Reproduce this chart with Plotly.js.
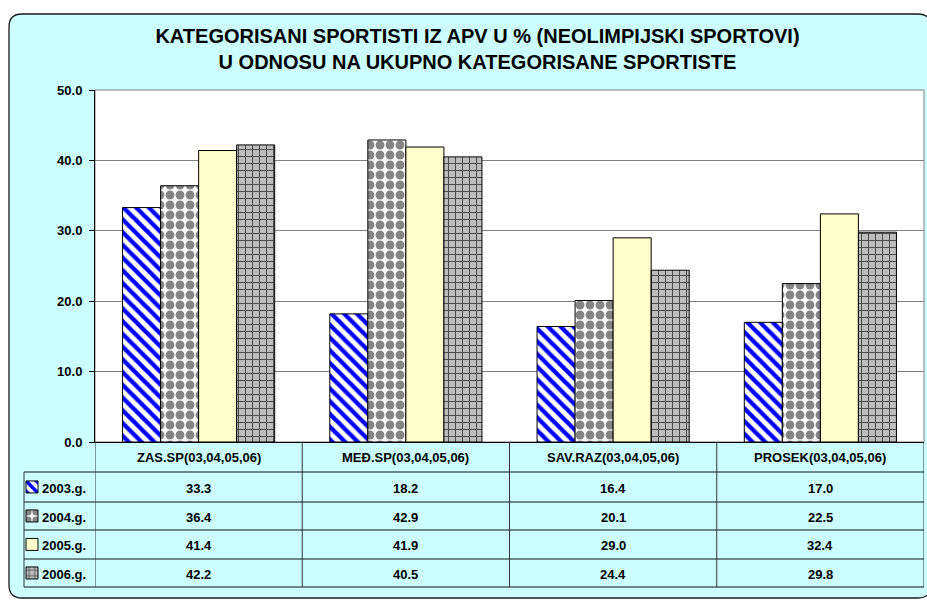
<!DOCTYPE html>
<html><head><meta charset="utf-8">
<script src="https://cdn.plot.ly/plotly-3.0.1.min.js"></script>
<style>html,body{margin:0;padding:0;background:#fff}#chart{width:927px;height:601px}</style>
</head><body><div id="chart"></div>
<script>
// ---- data ----
const categories = ['ZAS.SP(03,04,05,06)', 'MEĐ.SP(03,04,05,06)', 'SAV.RAZ(03,04,05,06)', 'PROSEK(03,04,05,06)'];
const seriesNames = ['2003.g.', '2004.g.', '2005.g.', '2006.g.'];
const v2003 = [33.3, 18.2, 16.4, 17.0];
const v2004 = [36.4, 42.9, 20.1, 22.5];
const v2005 = [41.4, 41.9, 29.0, 32.4];
const v2006 = [42.2, 40.5, 24.4, 29.8];
const yTickVals = [0, 10, 20, 30, 40, 50];
const titleLines = ['KATEGORISANI SPORTISTI IZ APV U % (NEOLIMPIJSKI SPORTOVI)', 'U ODNOSU NA UKUPNO KATEGORISANE SPORTISTE'];

// ---- geometry helpers (pixels -> paper) ----
const W = 927, H = 601, ML = 95, MR = 3, MT = 90, MB = 159;
const PW = W - ML - MR, PH = H - MT - MB;
const X = px => (px - ML) / PW;
const Y = py => (H - MB - py) / PH;
const FONT = 'Liberation Sans, Arial, sans-serif';
const CYAN = '#CCFFFF';

const series = [v2003, v2004, v2005, v2006];
const styles = [
  {color: '#FFFFFF', pattern: {shape: '\\', fgcolor: '#0000FF', bgcolor: '#FFFFFF', size: 9, solidity: 0.48, fillmode: 'replace'}},
  {color: '#FFFFFF', pattern: {shape: '.', fgcolor: '#858585', bgcolor: '#FFFFFF', size: 10, solidity: 0.62, fillmode: 'replace'}},
  {color: '#FFFFCC'},
  {color: '#C0C0C0', pattern: {shape: '+', fgcolor: '#4a4a4a', bgcolor: '#BDBDBD', size: 7, solidity: 0.26, fillmode: 'replace'}}
];

// table row boundaries (px)
const headerTop = 442, headerBot = 472;
const rowLines = [472, 502, 530, 559, 587];

const legendKeys = ['legend', 'legend2', 'legend3', 'legend4'];
const traces = series.map((vals, i) => {
  const m = {color: styles[i].color, line: {color: '#000000', width: 1}};
  if (styles[i].pattern) m.pattern = styles[i].pattern;
  return {
    type: 'bar', x: categories, y: vals, name: ' ', marker: m,
    legend: legendKeys[i], hoverinfo: 'skip'
  };
});

const shapes = [];
// rounded frame
function rr(x0, y0, x1, y1, r) {
  const p = (a, b) => X(a).toFixed(5) + ',' + Y(b).toFixed(5);
  return 'M' + p(x0 + r, y0) + ' L' + p(x1 - r, y0) + ' Q' + p(x1, y0) + ' ' + p(x1, y0 + r) +
    ' L' + p(x1, y1 - r) + ' Q' + p(x1, y1) + ' ' + p(x1 - r, y1) +
    ' L' + p(x0 + r, y1) + ' Q' + p(x0, y1) + ' ' + p(x0, y1 - r) +
    ' L' + p(x0, y0 + r) + ' Q' + p(x0, y0) + ' ' + p(x0 + r, y0) + ' Z';
}
shapes.push({type: 'path', xref: 'paper', yref: 'paper', path: rr(9, 14, 931, 598, 13),
  fillcolor: CYAN, line: {color: '#1a1a1a', width: 1.3}, layer: 'below'});
// plot area
shapes.push({type: 'rect', xref: 'paper', yref: 'paper', x0: 0, x1: 1, y0: 0, y1: 1,
  fillcolor: '#FFFFFF', line: {color: '#808080', width: 1}, layer: 'below'});
// table horizontal lines
rowLines.forEach(py => shapes.push({type: 'line', xref: 'paper', yref: 'paper',
  x0: X(24), x1: 1, y0: Y(py), y1: Y(py), line: {color: '#111111', width: 1}}));
// table vertical lines (category boundaries)
for (let i = 0; i <= categories.length; i++) {
  shapes.push({type: 'line', xref: 'x', yref: 'paper', x0: i - 0.5, x1: i - 0.5,
    y0: Y(headerTop), y1: Y(rowLines[rowLines.length - 1]), line: {color: '#333333', width: 1}});
}
shapes.push({type: 'line', xref: 'paper', yref: 'paper', x0: X(24), x1: X(24),
  y0: Y(rowLines[0]), y1: Y(rowLines[rowLines.length - 1]), line: {color: '#333333', width: 1}});

const annotations = [];
const tf = {family: FONT, size: 13, color: '#000000', weight: 'bold'};
categories.forEach((c, j) => annotations.push({xref: 'x', yref: 'paper', x: c, y: Y((headerTop + headerBot) / 2),
  text: c, showarrow: false, font: tf, xanchor: 'center', yanchor: 'middle'}));
series.forEach((vals, i) => {
  const yc = (rowLines[i] + rowLines[i + 1]) / 2 + 1;
  annotations.push({xref: 'paper', yref: 'paper', x: X(40), y: Y(yc), text: seriesNames[i],
    showarrow: false, font: tf, xanchor: 'left', yanchor: 'middle'});
  vals.forEach((v, j) => annotations.push({xref: 'x', yref: 'paper', x: categories[j], y: Y(yc),
    text: v.toFixed(1), showarrow: false, font: tf, xanchor: 'center', yanchor: 'middle'}));
});

const layout = {
  width: W, height: H,
  margin: {l: ML, r: MR, t: MT, b: MB, pad: 0},
  paper_bgcolor: '#FFFFFF', plot_bgcolor: 'rgba(0,0,0,0)',
  font: {family: FONT, size: 13, color: '#000'},
  title: {text: titleLines.join('<br>'), font: {family: FONT, size: 20, weight: 'bold', color: '#000'},
    xref: 'container', yref: 'container', x: 477.5 / W, xanchor: 'center', y: 1 - 43 / H, yanchor: 'middle'},
  barmode: 'group', bargap: 0.266, bargroupgap: 0,
  xaxis: {type: 'category', range: [-0.5, 3.5], showticklabels: false, ticks: '', showgrid: false,
    showline: true, linecolor: '#000', linewidth: 1, zeroline: false, fixedrange: true},
  yaxis: {range: [0, 50], tickvals: yTickVals, tickformat: '.1f', ticks: 'outside', ticklen: 5, tickcolor: '#000',
    showline: true, linecolor: '#000', linewidth: 1, gridcolor: '#808080', gridwidth: 1, zeroline: false,
    tickfont: {family: FONT, size: 13, weight: 'bold', color: '#000'}, ticklabelstandoff: 4, fixedrange: true},
  shapes: shapes, annotations: annotations, showlegend: true
};
legendKeys.forEach((k, i) => {
  const yc = (rowLines[i] + rowLines[i + 1]) / 2;
  layout[k] = {x: X(12), xanchor: 'left', y: Y(yc), yanchor: 'middle', bgcolor: 'rgba(0,0,0,0)',
    borderwidth: 0, font: {size: 13}, itemclick: false, itemdoubleclick: false};
});

Plotly.newPlot('chart', traces, layout, {displayModeBar: false, staticPlot: true});
</script></body></html>
